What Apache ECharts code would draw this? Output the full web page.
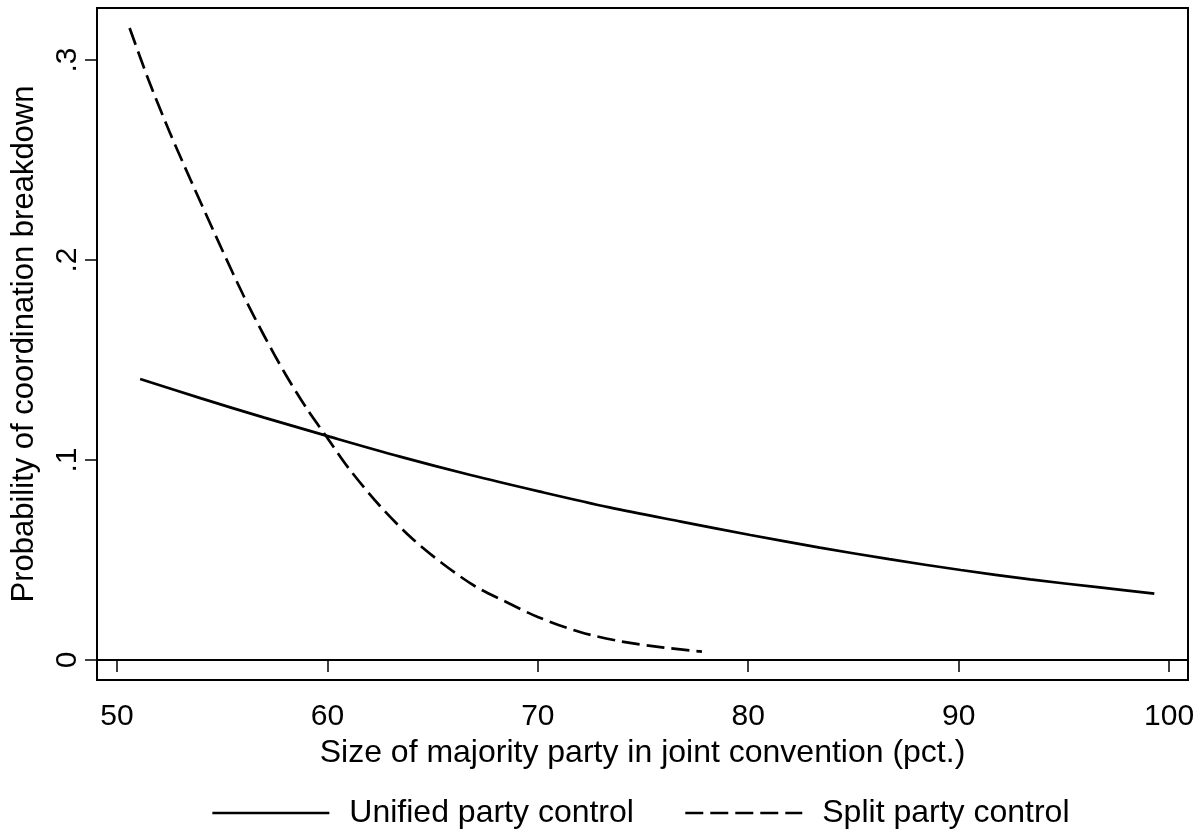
<!DOCTYPE html>
<html>
<head>
<meta charset="utf-8">
<script src="https://cdn.jsdelivr.net/npm/echarts@6/dist/echarts.min.js"></script>
<style>
html,body{margin:0;padding:0;background:#fff;}
#chart{width:1203px;height:833px;}
</style>
</head>
<body>
<div id="chart"></div>
<script>
// Data
const unifiedX = [51.1, 54, 57, 60.1, 63.45, 66.8, 70.1, 73.4, 76.8, 80.1, 83.4, 86.7, 90.1, 93.4, 96.7, 99.3];
const unifiedY = [0.1405, 0.1308, 0.1212, 0.1117, 0.1017, 0.0925, 0.0842, 0.0763, 0.0692, 0.0625, 0.0562, 0.0504, 0.0450, 0.0403, 0.0363, 0.0332];
const splitX = [50.6, 51.5, 52.5, 53.5, 55, 56, 57, 58, 59, 60, 61, 62.5, 64, 65.5, 67, 68.5, 70, 72, 74, 76, 77.8];
const splitY = [0.316, 0.29, 0.264, 0.24, 0.205, 0.1825, 0.162, 0.143, 0.126, 0.111, 0.096, 0.077, 0.061, 0.048, 0.037, 0.029, 0.0215, 0.014, 0.0092, 0.0062, 0.0042];
const xTicks = [50, 60, 70, 80, 90, 100];
const yTicks = [0, 0.1, 0.2, 0.3];
const yTickLabels = ["0", ".1", ".2", ".3"];
const seriesNames = ["Unified party control", "Split party control"];
const xTitle = "Size of majority party in joint convention (pct.)";
const yTitle = "Probability of coordination breakdown";

const FONT = '"Liberation Sans", Arial, Helvetica, sans-serif';
const zip = (xs, ys) => xs.map((x, i) => [x, ys[i]]);

const chart = echarts.init(document.getElementById('chart'), null, {renderer: 'canvas'});
chart.setOption({
  animation: false,
  backgroundColor: '#fff',
  textStyle: {fontFamily: FONT, color: '#000'},
  grid: {left: 97, right: 15, top: 8, bottom: 153, containLabel: false, outerBoundsMode: 'none',
         show: true, borderColor: '#000', borderWidth: 2, backgroundColor: '#fff'},
  legend: {
    left: 211, top: 797, padding: 0,
    itemWidth: 117, itemHeight: 14, itemGap: 50,
    itemStyle: {opacity: 0},
    lineStyle: {width: 2.7},
    textStyle: {fontSize: 32, fontFamily: FONT, color: '#000', padding: [0, 0, 0, 15]},
    data: seriesNames
  },
  xAxis: {
    type: 'value', min: 49.05, max: 100.9,
    name: xTitle, nameLocation: 'middle', nameGap: 52,
    nameTextStyle: {fontSize: 32, fontFamily: FONT, color: '#000'},
    axisLine: {show: true, lineStyle: {color: '#000', width: 2}},
    axisTick: {show: true, length: 12, lineStyle: {color: '#000', width: 1.5}, customValues: xTicks},
    axisLabel: {fontSize: 30, fontFamily: FONT, color: '#000', margin: 22, customValues: xTicks, formatter: v => String(v)},
    splitLine: {show: false}
  },
  yAxis: {
    type: 'value', min: -0.01, max: 0.326,
    name: yTitle, nameLocation: 'middle', nameGap: 57, nameRotate: 90,
    nameTextStyle: {fontSize: 31, fontFamily: FONT, color: '#000'},
    axisLine: {show: true, lineStyle: {color: '#000', width: 2}},
    axisTick: {show: true, length: 12, lineStyle: {color: '#000', width: 1.5}, customValues: yTicks},
    axisLabel: {fontSize: 30, fontFamily: FONT, color: '#000', margin: 14, rotate: 90, customValues: yTicks,
      formatter: v => { const i = yTicks.findIndex(t => Math.abs(t - v) < 1e-9); return i >= 0 ? yTickLabels[i] : ''; }},
    splitLine: {show: false}
  },
  series: [
    {name: seriesNames[0], type: 'line', data: zip(unifiedX, unifiedY), smooth: 0.3, symbol: 'none',
     lineStyle: {color: '#000', width: 2.7, type: 'solid'}, itemStyle: {color: '#000'}},
    {name: seriesNames[1], type: 'line', data: zip(splitX, splitY), smooth: 0.3, symbol: 'none',
     lineStyle: {color: '#000', width: 2.7, type: [18, 7]}, itemStyle: {color: '#000'}}
  ]
});
</script>
</body>
</html>
